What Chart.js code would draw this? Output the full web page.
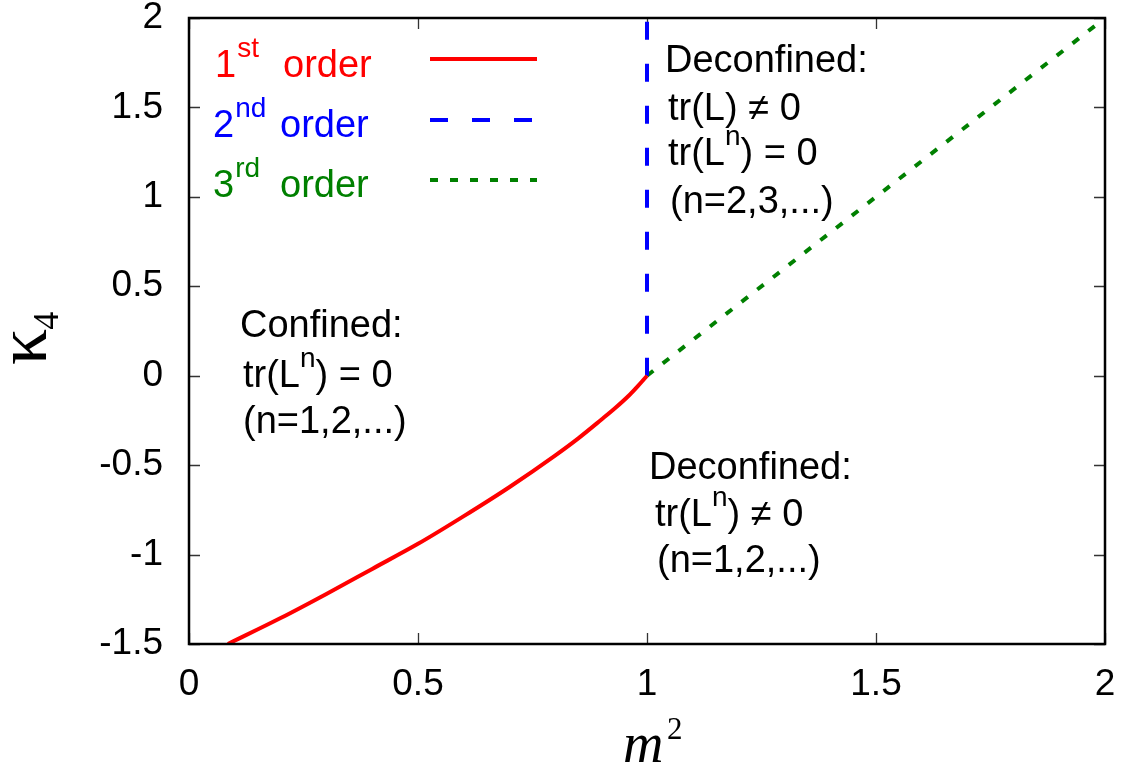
<!DOCTYPE html>
<html>
<head>
<meta charset="utf-8">
<script src="https://cdn.jsdelivr.net/npm/chart.js@4.4.1/dist/chart.umd.min.js"></script>
<style>
html,body{margin:0;padding:0;background:#fff;overflow:hidden}
#wrap{width:1128px;height:768px}
</style>
</head>
<body>
<div id="wrap"><canvas id="c" width="1128" height="768"></canvas></div>
<script>
// ---- data ----
const firstOrderX = [0.085, 0.2, 0.3, 0.4, 0.5, 0.6, 0.7, 0.8, 0.85, 0.9, 0.93, 0.96, 0.98, 1.0];
const firstOrderY = [-1.5, -1.355, -1.22, -1.08, -0.94, -0.785, -0.622, -0.445, -0.35, -0.246, -0.182, -0.112, -0.058, 0];
const secondOrderX = [1, 1];
const secondOrderY = [0, 2];
const thirdOrderX = [1, 2];
const thirdOrderY = [0, 2];
const xTickValues = [0, 0.5, 1, 1.5, 2];
const xTickLabels = ['0', '0.5', '1', '1.5', '2'];
const yTickValues = [-1.5, -1, -0.5, 0, 0.5, 1, 1.5, 2];
const yTickLabels = ['-1.5', '-1', '-0.5', '0', '0.5', '1', '1.5', '2'];
const seriesNumbers = ['1', '2', '3'];
const seriesSuffixes = ['st', 'nd', 'rd'];
const seriesWord = 'order';
const xTitle = ['m', '2'];
const yTitle = ['\u03BA', '4'];
const annotationsText = [
  [[{t:'Deconfined:'}], [{t:'tr(L) \u2260 0'}], [{t:'tr(L'},{t:'n',sup:true},{t:') = 0'}], [{t:'(n=2,3,...)'}]],
  [[{t:'Confined:'}], [{t:'tr(L'},{t:'n',sup:true},{t:') = 0'}], [{t:'(n=1,2,...)'}]],
  [[{t:'Deconfined:'}], [{t:'tr(L'},{t:'n',sup:true},{t:') \u2260 0'}], [{t:'(n=1,2,...)'}]]
];

// ---- styles / layout ----
const SANS = "'Liberation Sans', Arial, Helvetica, sans-serif";
const SERIF = "'Liberation Serif', 'Times New Roman', serif";
const MAIN_FONT = '38px ' + SANS;
const SUP_FONT = '28px ' + SANS;
const colors = ['#ff0000', '#0000ff', '#008000'];
const dashes = [[], [18, 24], [8, 12]];
const annotLayout = [
  {xs:[665, 668, 668, 670], ys:[72, 120, 165, 213]},
  {xs:[240, 243, 243, 245], ys:[337, 387, 433]},
  {xs:[649, 655, 657], ys:[479, 526, 572]}
];

function pts(xs, ys){ return xs.map((x,i)=>({x:x, y:ys[i]})); }

function richText(ctx, x, y, parts){
  let cx = x;
  for (const p of parts){
    ctx.font = p.sup ? SUP_FONT : MAIN_FONT;
    ctx.fillText(p.t, cx, p.sup ? y - 20 : y);
    cx += ctx.measureText(p.t).width;
  }
}

const decor = {
  id: 'decor',
  beforeDatasetsDraw(chart){
    const ctx = chart.ctx, a = chart.chartArea;
    const xs = chart.scales.x, ys = chart.scales.y;
    ctx.save();
    ctx.strokeStyle = '#333';
    ctx.lineWidth = 1.3;
    const tl = 11;
    ctx.beginPath();
    xTickValues.forEach(v=>{
      const px = Math.round(xs.getPixelForValue(v)) + 0.5;
      ctx.moveTo(px, a.bottom); ctx.lineTo(px, a.bottom - tl);
      ctx.moveTo(px, a.top); ctx.lineTo(px, a.top + tl);
    });
    yTickValues.forEach(v=>{
      const py = Math.round(ys.getPixelForValue(v)) + 0.5;
      ctx.moveTo(a.left, py); ctx.lineTo(a.left + tl, py);
      ctx.moveTo(a.right, py); ctx.lineTo(a.right - tl, py);
    });
    ctx.stroke();
    ctx.restore();
  },
  afterDraw(chart){
    const ctx = chart.ctx, a = chart.chartArea;
    ctx.save();
    ctx.strokeStyle = '#000';
    ctx.lineWidth = 2.5;
    ctx.strokeRect(a.left, a.top, a.right - a.left, a.bottom - a.top);

    // legend
    ctx.textBaseline = 'alphabetic';
    ctx.textAlign = 'left';
    const legNumX = [215, 213, 213];
    const legWordX = [283, 280, 280];
    const legBase = [77, 137, 197];
    const legLineY = [59, 120, 180];
    for (let i = 0; i < 3; i++){
      ctx.fillStyle = colors[i];
      ctx.font = MAIN_FONT;
      ctx.fillText(seriesNumbers[i], legNumX[i], legBase[i]);
      const w = ctx.measureText(seriesNumbers[i]).width;
      ctx.font = SUP_FONT;
      ctx.fillText(seriesSuffixes[i], legNumX[i] + w + 1, legBase[i] - 20);
      ctx.font = MAIN_FONT;
      ctx.fillText(seriesWord, legWordX[i], legBase[i]);
      ctx.strokeStyle = colors[i];
      ctx.lineWidth = 4;
      ctx.setLineDash(dashes[i]);
      ctx.beginPath();
      ctx.moveTo(430, legLineY[i]);
      ctx.lineTo(537, legLineY[i]);
      ctx.stroke();
    }
    ctx.setLineDash([]);

    // annotations
    ctx.fillStyle = '#000';
    annotationsText.forEach((block, bi)=>{
      const L = annotLayout[bi];
      block.forEach((line, li)=> richText(ctx, L.xs[li], L.ys[li], line));
    });

    // x title
    ctx.fillStyle = '#000';
    ctx.font = 'italic 56px ' + SERIF;
    ctx.fillText(xTitle[0], 623, 762);
    ctx.font = '31px ' + SERIF;
    ctx.fillText(xTitle[1], 667, 739);

    // y title (rotated)
    ctx.save();
    ctx.translate(46, 365);
    ctx.rotate(-Math.PI/2);
    ctx.font = '72px ' + SERIF;
    ctx.fillText(yTitle[0], 0, 0);
    const kw = ctx.measureText(yTitle[0]).width;
    ctx.font = '36px ' + SERIF;
    ctx.fillText(yTitle[1], kw - 1, 12);
    ctx.restore();

    ctx.restore();
  }
};

const tickFont = {family: "'Liberation Sans', Arial, Helvetica, sans-serif", size: 37};

new Chart(document.getElementById('c'), {
  type: 'line',
  data: {
    datasets: [
      {label: '1st order', data: pts(firstOrderX, firstOrderY), borderColor: colors[0], borderWidth: 4,
       pointRadius: 0, tension: 0.4, cubicInterpolationMode: 'monotone', fill: false},
      {label: '2nd order', data: pts(secondOrderX, secondOrderY), borderColor: colors[1], borderWidth: 4,
       borderDash: dashes[1], pointRadius: 0, fill: false},
      {label: '3rd order', data: pts(thirdOrderX, thirdOrderY), borderColor: colors[2], borderWidth: 4,
       borderDash: dashes[2], pointRadius: 0, fill: false}
    ]
  },
  options: {
    responsive: false,
    animation: false,
    devicePixelRatio: 1,
    layout: {padding: {left: 0, top: 18, right: 23, bottom: 0}},
    plugins: {legend: {display: false}, tooltip: {enabled: false}},
    scales: {
      x: {
        type: 'linear', min: 0, max: 2,
        afterBuildTicks: s => { s.ticks = xTickValues.map(v=>({value: v})); },
        afterFit: s => { s.height = 124; s.paddingLeft = 0; s.paddingRight = 0; },
        ticks: {font: tickFont, color: '#000', padding: 19, maxRotation: 0,
                callback: (v, i) => xTickLabels[i]},
        grid: {display: false, drawTicks: false},
        border: {display: false}
      },
      y: {
        type: 'linear', min: -1.5, max: 2,
        afterBuildTicks: s => { s.ticks = yTickValues.map(v=>({value: v})); },
        afterFit: s => { s.width = 189; s.paddingTop = 0; s.paddingBottom = 0; },
        ticks: {font: tickFont, color: '#000', padding: 26,
                callback: (v, i) => yTickLabels[i]},
        grid: {display: false, drawTicks: false},
        border: {display: false}
      }
    }
  },
  plugins: [decor]
});
</script>
</body>
</html>
